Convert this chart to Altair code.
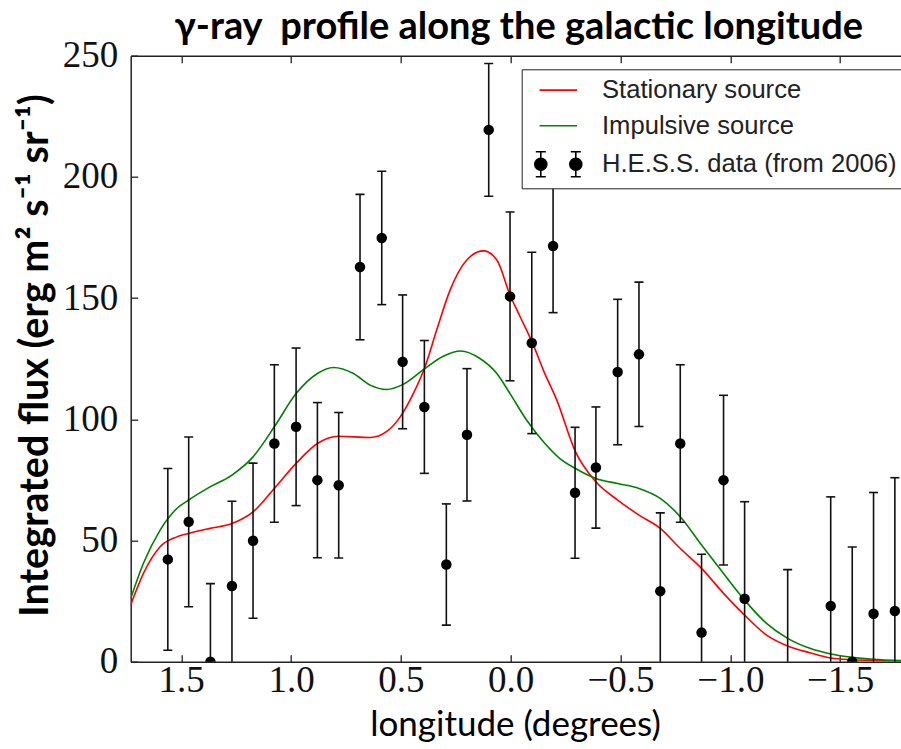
import altair as alt
import pandas as pd

# ---------------- data ----------------
hess_lon = [1.561, 1.466, 1.367, 1.269, 1.173, 1.076, 0.977, 0.880, 0.783, 0.686,
            0.587, 0.492, 0.393, 0.293, 0.199, 0.100, 0.003, -0.096, -0.193, -0.293,
            -0.388, -0.487, -0.584, -0.681, -0.772, -0.869, -0.969, -1.065, -1.261,
            -1.457, -1.555, -1.652, -1.749]
hess_flux = [42.2, 57.7, 0.0, 31.2, 49.9, 90.0, 96.9, 74.9, 72.8, 162.8,
             174.8, 123.7, 105.1, 40.1, 93.6, 219.4, 150.7, 131.5, 171.5, 69.7,
             80.1, 119.5, 126.8, 29.1, 90.0, 12.0, 74.9, 26.0, -5.0,
             23.0, 0.0, 19.8, 20.9]
hess_err = [37.5, 35.0, 32.2, 35.0, 32.0, 32.5, 32.5, 32.0, 30.0, 30.0,
            27.5, 27.6, 27.4, 25.0, 27.3, 27.4, 34.8, 37.4, 27.5, 27.0,
            25.0, 30.0, 29.8, 32.3, 32.5, 32.3, 35.0, 40.0, 43.0,
            45.0, 47.3, 50.0, 55.0]

stat_lon = [1.730, 1.672, 1.596, 1.520, 1.466, 1.369, 1.269, 1.173, 1.076, 0.977,
            0.880, 0.783, 0.640, 0.564, 0.503, 0.443, 0.390, 0.337, 0.276, 0.200,
            0.124, 0.063, 0.003, -0.043, -0.100, -0.149, -0.210, -0.293, -0.388,
            -0.487, -0.584, -0.681, -0.772, -0.869, -0.969, -1.065, -1.165, -1.261,
            -1.362, -1.457, -1.555, -1.652, -1.777]
stat_flux = [23.4, 36.4, 47.4, 51.5, 52.9, 55.0, 57.0, 61.8, 71.5, 81.8,
             90.0, 93.0, 92.5, 95.0, 101.0, 110.7, 121.7, 136.8, 153.3, 165.7,
             169.5, 165.7, 151.3, 142.3, 131.3, 120.2, 107.9, 87.0, 74.2,
             66.7, 60.5, 55.0, 46.7, 38.5, 28.2, 19.2, 11.0, 6.5,
             3.7, 1.5, 0.8, 0.5, 0.3]

imp_lon = [1.730, 1.672, 1.596, 1.520, 1.466, 1.369, 1.269, 1.173, 1.076, 0.977,
           0.880, 0.807, 0.716, 0.640, 0.564, 0.492, 0.393, 0.307, 0.228, 0.140,
           0.063, 0.003, -0.073, -0.149, -0.224, -0.293, -0.388, -0.487, -0.584,
           -0.681, -0.772, -0.869, -0.969, -1.065, -1.165, -1.261, -1.362, -1.457,
           -1.555, -1.652, -1.777]
imp_flux = [26.1, 40.6, 54.3, 63.2, 66.7, 72.1, 77.0, 84.5, 96.9, 110.6,
            118.9, 121.4, 118.9, 114.1, 112.3, 114.3, 120.8, 126.0, 128.2, 125.1,
            118.9, 110.6, 99.6, 90.7, 83.8, 79.8, 75.6, 73.5, 71.5,
            67.4, 59.8, 48.1, 36.4, 25.4, 15.8, 9.6, 5.5, 3.2,
            1.8, 1.0, 0.5]

series_names = ["Stationary source", "Impulsive source", "H.E.S.S. data (from 2006)"]
x_ticks = [1.5, 1.0, 0.5, 0.0, -0.5, -1.0, -1.5]
y_ticks = [0, 50, 100, 150, 200, 250]

# ---------------- tables ----------------
hess = pd.DataFrame({"lon": hess_lon, "flux": hess_flux, "err": hess_err})
hess["lo"] = hess["flux"] - hess["err"]
hess["hi"] = hess["flux"] + hess["err"]
stat = pd.DataFrame({"lon": stat_lon, "flux": stat_flux})
imp = pd.DataFrame({"lon": imp_lon, "flux": imp_flux})
leg_df = pd.DataFrame({"series": series_names})

# ---------------- layout ----------------
W, H = 770.3, 606
PAD = {"left": 130.7, "top": 55.7, "right": 0, "bottom": 87.3}

xs = alt.Scale(domain=[1.73, -1.777], nice=False, zero=False)
ys = alt.Scale(domain=[0, 250], nice=False, zero=False)

AX = "#222222"
label_expr = "replace(format(datum.value, '.1f'), '-', '\u2212')"

x_main = alt.Axis(orient="bottom", values=x_ticks, labelExpr=label_expr,
                  labelFont="Liberation Serif", labelFontSize=37, labelColor="#111111",
                  labelPadding=1, labelFlush=False, labelOverlap=False,
                  ticks=False, domain=True, domainColor=AX, domainWidth=1.5, grid=False,
                  title="longitude (degrees)", titleFont="Lato", titleFontSize=35,
                  titleFontWeight="normal", titleColor="black",
                  titleX=384.3, titleY=73.3, titleBaseline="alphabetic", titleAlign="center")
y_main = alt.Axis(orient="left", values=y_ticks, format="d",
                  labelFont="Liberation Serif", labelFontSize=37, labelColor="#111111",
                  labelPadding=13, labelFlush=False, labelOverlap=False,
                  ticks=False, domain=True, domainColor=AX, domainWidth=1.5, grid=False,
                  title="Integrated flux (erg m\u00b2 s\u207b\u00b9 sr\u207b\u00b9)",
                  titleFont="Lato", titleFontSize=39.5, titleFontWeight="bold",
                  titleColor="black", titleAngle=270, titleX=-83.7, titleY=299.3,
                  titleBaseline="alphabetic", titleAlign="center")
# inward ticks on the bottom edge and on the left edge
x_in_bottom = alt.Axis(orient="top", offset=-H, values=x_ticks, labels=False, domain=False,
                       ticks=True, tickSize=7, tickColor=AX, tickWidth=1.3, grid=False, title=None)
y_in_left = alt.Axis(orient="right", offset=-W, values=y_ticks, labels=False, domain=False,
                     ticks=True, tickSize=7, tickColor=AX, tickWidth=1.3, grid=False, title=None)
# top border with inward ticks
x_top = alt.Axis(orient="bottom", offset=-H, values=x_ticks, labels=False, domain=True,
                 domainColor=AX, domainWidth=1.5, ticks=True, tickSize=7, tickColor=AX,
                 tickWidth=1.3, grid=False, title=None)

red = alt.Chart(stat).mark_line(color="#ff0000", strokeWidth=1.6, interpolate="monotone", clip=True).encode(
    x=alt.X("lon:Q", scale=xs, axis=x_main),
    y=alt.Y("flux:Q", scale=ys, axis=y_main),
)
green = alt.Chart(imp).mark_line(color="#008000", strokeWidth=1.6, interpolate="monotone", clip=True).encode(
    x=alt.X("lon:Q", scale=xs, axis=x_in_bottom),
    y=alt.Y("flux:Q", scale=ys, axis=y_in_left),
)
bars = alt.Chart(hess).mark_rule(color="#111111", strokeWidth=1.6, clip=True).encode(
    x=alt.X("lon:Q", scale=xs, axis=x_top),
    y=alt.Y("lo:Q", scale=ys, axis=None),
    y2="hi:Q",
)
cap_hi = alt.Chart(hess).mark_tick(orient="horizontal", size=9, thickness=1.6,
                                   color="#111111", opacity=1, clip=True).encode(
    x=alt.X("lon:Q", scale=xs, axis=None),
    y=alt.Y("hi:Q", scale=ys, axis=None),
)
cap_lo = alt.Chart(hess).mark_tick(orient="horizontal", size=9, thickness=1.6,
                                   color="#111111", opacity=1, clip=True).encode(
    x=alt.X("lon:Q", scale=xs, axis=None),
    y=alt.Y("lo:Q", scale=ys, axis=None),
)
dots = alt.Chart(hess).mark_circle(size=110, color="black", opacity=1, clip=True).encode(
    x=alt.X("lon:Q", scale=xs, axis=None),
    y=alt.Y("flux:Q", scale=ys, axis=None),
)

# ---------------- legend ----------------
U = 3.16  # horizontal shift of the drawn symbol inside its slot (symbol units)
line_path = f"M{-3.75 + U:.2f},0L{3.75 + U:.2f},0"


def bar_dot(cx, r=1.2, h=2.5, c=1.0):
    return (f"M{cx - r:.2f},0A{r},{r},0,1,0,{cx + r:.2f},0A{r},{r},0,1,0,{cx - r:.2f},0Z"
            f"M{cx:.2f},{-h}L{cx:.2f},{h}"
            f"M{cx - c:.2f},{-h}L{cx + c:.2f},{-h}"
            f"M{cx - c:.2f},{h}L{cx + c:.2f},{h}")


hess_path = bar_dot(-3.5 + U) + bar_dot(3.5 + U)

leg = alt.Legend(title=None, orient="none", legendX=391, legendY=13.6, padding=8,
                 rowPadding=8.6, symbolSize=100, symbolStrokeWidth=1.6,
                 labelFont="Liberation Sans", labelFontSize=25.6, labelColor="#222222",
                 labelOffset=46.7, labelLimit=600, strokeColor="#222222",
                 fillColor="white", cornerRadius=0)

legend_layer = alt.Chart(leg_df).transform_filter("false").mark_point(
    filled=False, fill="black", strokeWidth=1.6, size=100, opacity=1).encode(
    color=alt.Color("series:N", scale=alt.Scale(domain=series_names,
                                                range=["#ff0000", "#008000", "#000000"]),
                    legend=leg),
    shape=alt.Shape("series:N", scale=alt.Scale(domain=series_names,
                                                range=[line_path, line_path, hess_path]),
                    legend=leg),
)

chart = alt.layer(red, green, bars, cap_hi, cap_lo, dots, legend_layer).resolve_axis(
    x="independent", y="independent"
).properties(
    width=W, height=H,
    autosize=alt.AutoSizeParams(type="none"),
    padding=PAD,
    background="white",
    title=alt.TitleParams("\u03b3-ray\u00a0 profile along the galactic longitude",
                          font="Lato", fontSize=38, fontWeight="bold", color="black",
                          anchor="middle", baseline="alphabetic", offset=18, dx=3, dy=58),
).configure_view(stroke=None)

chart.save("out.html", embed_options={"renderer": "svg", "actions": False})
